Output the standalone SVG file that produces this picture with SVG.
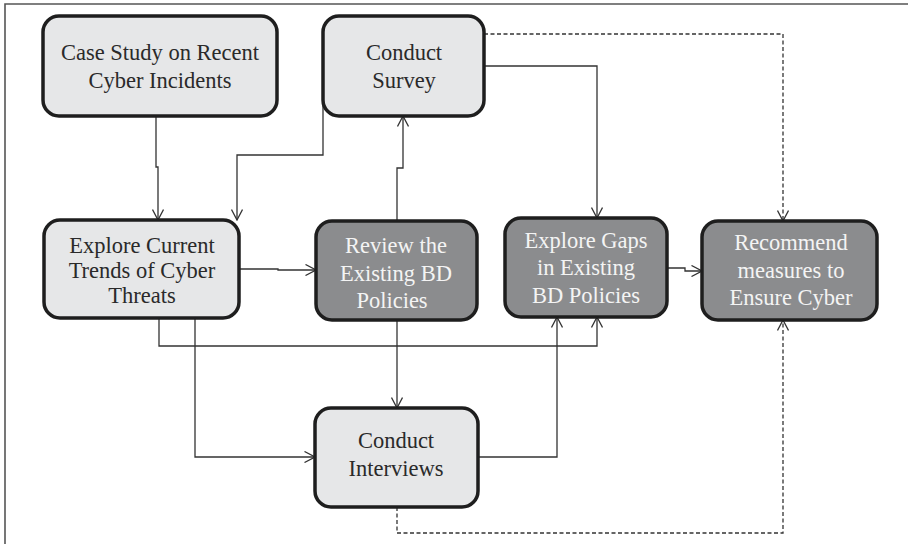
<svg xmlns="http://www.w3.org/2000/svg" width="908" height="544" viewBox="0 0 908 544">
  <style>
    .frame { fill: none; stroke: #555; stroke-width: 1.6; }
    .box { stroke: #1e1e1e; stroke-width: 3.5; }
    .light { fill: #e6e7e8; }
    .dark { fill: #8b8c8e; }
    .lbl { font-family: "Liberation Serif", "DejaVu Serif", serif; font-size: 22.5px; text-anchor: middle; }
    .lbl-light { fill: #2a2a2a; }
    .lbl-dark { fill: #f4f4f4; }
    .wire { fill: none; stroke: #333; stroke-width: 1.3; }
    .dash { stroke-dasharray: 4 2.5; }
  </style>
  <defs>
    <marker id="arrow" viewBox="0 0 12 12" refX="11.5" refY="6" markerWidth="12" markerHeight="12" markerUnits="userSpaceOnUse" orient="auto">
      <path d="M1,0.5 L11.5,6 L1,11.5" fill="none" stroke="#333" stroke-width="1.3"/>
    </marker>
  </defs>

  <!-- outer frame (top and left edges) -->
  <path class="frame" d="M5,544 V4 H908"/>

  <g id="connectors">
    <path class="wire" d="M156,116 V167 H158 V220" marker-end="url(#arrow)"/>
    <path class="wire" d="M323,105 V155 H237 V220" marker-end="url(#arrow)"/>
    <path class="wire" d="M239,269 H278 V270 H316" marker-end="url(#arrow)"/>
    <path class="wire" d="M397,221 V168 H403 V116" marker-end="url(#arrow)"/>
    <path class="wire" d="M484,66 H597 V218" marker-end="url(#arrow)"/>
    <path class="wire dash" d="M484,34 H783 V221" marker-end="url(#arrow)"/>
    <path class="wire" d="M667,268 H685 V271 H702" marker-end="url(#arrow)"/>
    <path class="wire" d="M159,318 V346 H597 V317" marker-end="url(#arrow)"/>
    <path class="wire" d="M195,318 V457 H315" marker-end="url(#arrow)"/>
    <path class="wire" d="M397,320 V408" marker-end="url(#arrow)"/>
    <path class="wire" d="M478,457 H557 V317" marker-end="url(#arrow)"/>
    <path class="wire dash" d="M397,507 V533 H783 V320" marker-end="url(#arrow)"/>
  </g>

  <g id="case-study">
    <rect class="box light" x="43" y="16" width="234" height="100" rx="16"/>
    <text class="lbl lbl-light" x="160" y="60">Case Study on Recent</text>
    <text class="lbl lbl-light" x="160" y="88">Cyber Incidents</text>
  </g>

  <g id="conduct-survey">
    <rect class="box light" x="323" y="16" width="161" height="100" rx="16"/>
    <text class="lbl lbl-light" x="404" y="60">Conduct</text>
    <text class="lbl lbl-light" x="404" y="88">Survey</text>
  </g>

  <g id="explore-trends">
    <rect class="box light" x="44" y="220" width="195" height="98" rx="16"/>
    <text class="lbl lbl-light" x="142" y="253">Explore Current</text>
    <text class="lbl lbl-light" x="142" y="278">Trends of Cyber</text>
    <text class="lbl lbl-light" x="142" y="303">Threats</text>
  </g>

  <g id="review-policies">
    <rect class="box dark" x="316" y="221" width="161" height="99" rx="16"/>
    <text class="lbl lbl-dark" x="396" y="253">Review the</text>
    <text class="lbl lbl-dark" x="396" y="281">Existing BD</text>
    <text class="lbl lbl-dark" x="392" y="308">Policies</text>
  </g>

  <g id="explore-gaps">
    <rect class="box dark" x="505" y="218" width="162" height="99" rx="16"/>
    <text class="lbl lbl-dark" x="586" y="248">Explore Gaps</text>
    <text class="lbl lbl-dark" x="586" y="275">in Existing</text>
    <text class="lbl lbl-dark" x="586" y="303">BD Policies</text>
  </g>

  <g id="recommend">
    <rect class="box dark" x="702" y="221" width="175" height="99" rx="16"/>
    <text class="lbl lbl-dark" x="791" y="250">Recommend</text>
    <text class="lbl lbl-dark" x="791" y="278">measures to</text>
    <text class="lbl lbl-dark" x="791" y="305">Ensure Cyber</text>
  </g>

  <g id="conduct-interviews">
    <rect class="box light" x="315" y="408" width="163" height="99" rx="16"/>
    <text class="lbl lbl-light" x="396" y="448">Conduct</text>
    <text class="lbl lbl-light" x="396" y="476">Interviews</text>
  </g>
</svg>
